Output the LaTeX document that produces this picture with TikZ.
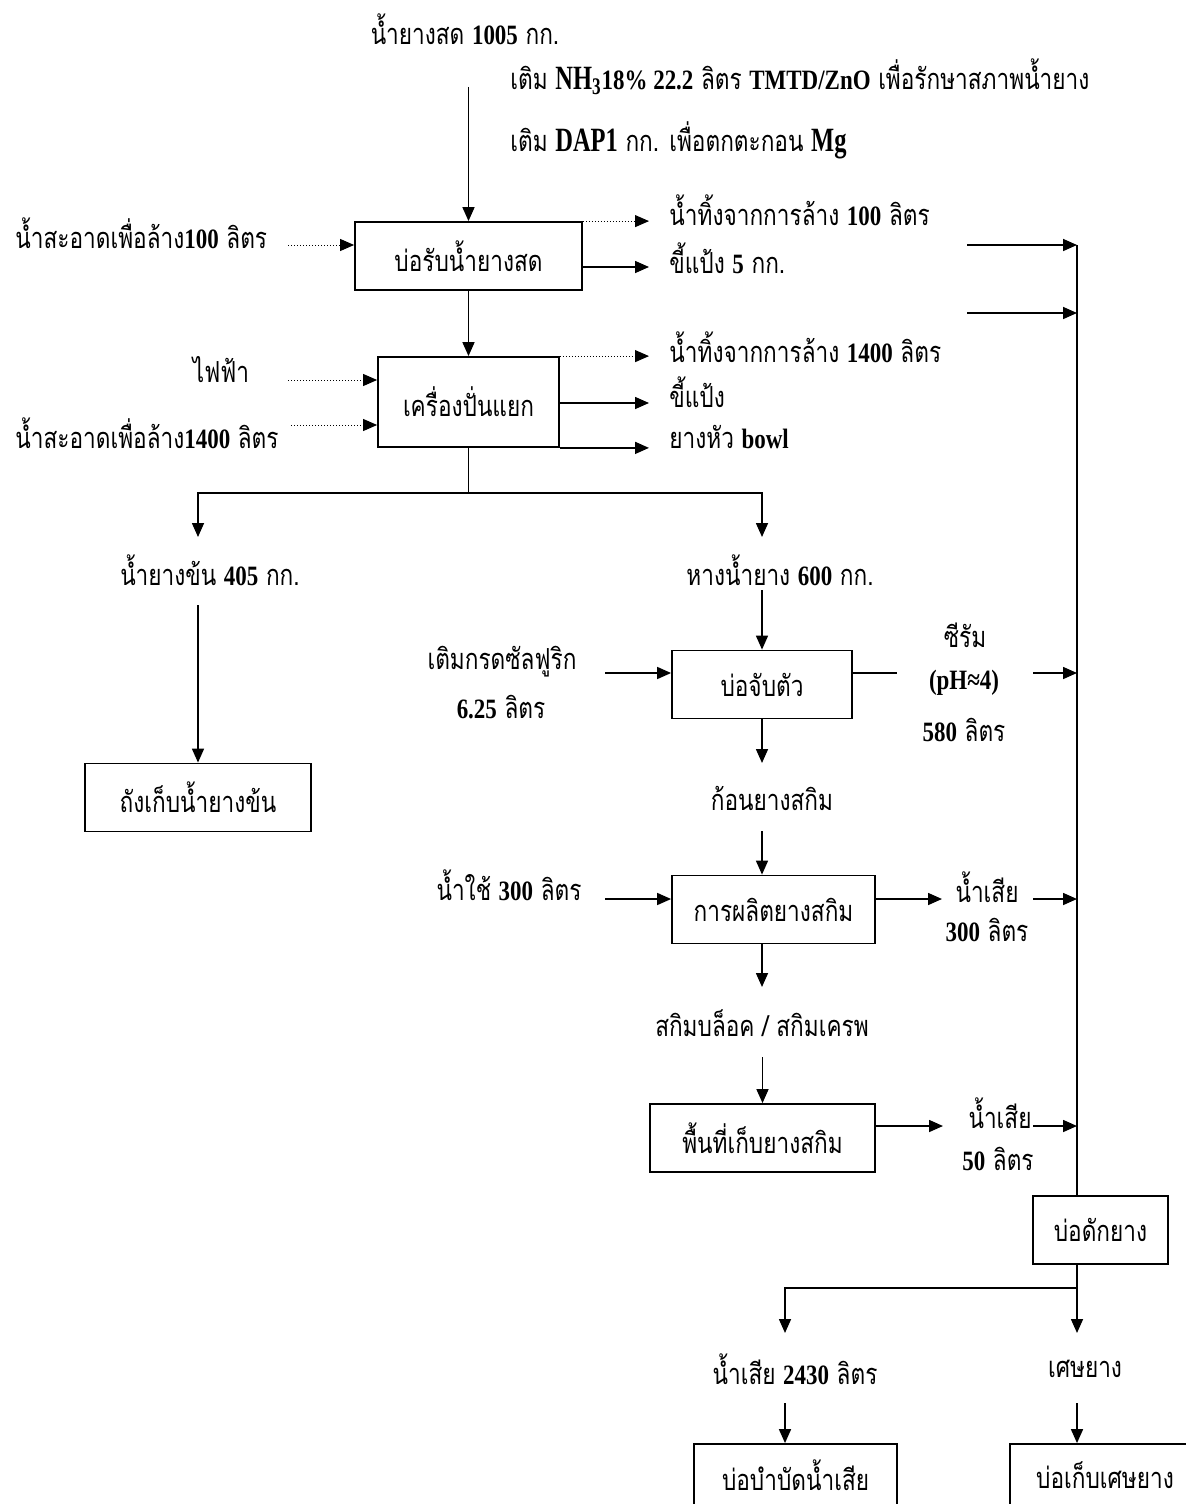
\documentclass[tikz,border=0pt]{standalone}
\usepackage{fontspec}
\setmainfont[Script=Thai, FakeStretch=0.78]{Loma}
\newfontfamily\numfont[FakeStretch=0.82]{Liberation Serif}
\newfontfamily\bignumfont[FakeStretch=0.72]{Liberation Serif}
\usetikzlibrary{arrows.meta,positioning}
\newcommand\nb[1]{{\numfont\bfseries\fontsize{14}{17}\selectfont #1}}
\newcommand\nbig[1]{{\bignumfont\bfseries\fontsize{17}{20}\selectfont #1}}

\begin{document}
\begin{tikzpicture}[x=0.5pt, y=-0.5pt, >={Triangle[length=7pt,width=6pt]},
		font=\fontsize{14.5}{17}\selectfont,
		flow/.style={->, line width=0.8pt},
		bare/.style={line width=0.8pt},
		wash/.style={->, densely dotted, line width=0.5pt},
		unit/.style={draw, line width=0.9pt, inner sep=0pt, minimum width={#1*0.5pt}, minimum height=34pt},
		lbl/.style={inner sep=0pt}]
		\useasboundingbox (0,0) rectangle (1185,1504);
		% columns of arrow tips
		\coordinate (outA) at (649,0);
		\coordinate (drain) at (1077,0);
		% fresh latex and chemicals
		\node[lbl] (fresh) at (465,29) {น้ำยางสด \nb{1005} กก.};
		\node[lbl, anchor=west] (ammo) at (510,77) {เติม \nbig{NH\textsubscript{3}}\nb{18\% 22.2} ลิตร \nb{TMTD/ZnO} เพื่อรักษาสภาพน้ำยาง};
		\node[lbl, anchor=west] (dap) at (510,140) {เติม \nbig{DAP1} กก. เพื่อตกตะกอน \nbig{Mg}};
		\node[unit=227] (rcv) at (468.5,256) {บ่อรับน้ำยางสด};
		\coordinate (feed) at (468.5,87);
		\draw[flow] (feed) -- (rcv.north);
		\node[lbl, anchor=west] (clean1) at (15,233) {น้ำสะอาดเพื่อล้าง\nb{100} ลิตร};
		\coordinate (c1) at (288,245);
		\draw[wash] (c1) -- (c1 -| rcv.west);
		\node[lbl, anchor=west] (rinse1) at (669,210) {น้ำทิ้งจากการล้าง \nb{100} ลิตร};
		\node[lbl, anchor=west] (starch1) at (669,258) {ขี้แป้ง \nb{5} กก.};
		\draw[wash] (rcv.north east) -- (rcv.north east -| outA);
		\coordinate (r1) at (582,267);
		\draw[flow] (r1) -- (r1 -| outA);
		% free feeds into the drain line
		\coordinate (s1) at (967,245);
		\coordinate (s2) at (967,313);
		\draw[flow] (s1) -- (s1 -| drain);
		\draw[flow] (s2) -- (s2 -| drain);
		% centrifuge
		\node[unit=181, minimum height=45pt] (sep) at (468.5,402) {เครื่องปั่นแยก};
		\draw[flow] (rcv.south) -- (sep.north);
		\node[lbl] (power) at (221,370) {ไฟฟ้า};
		\node[lbl, anchor=west] (clean2) at (15,433) {น้ำสะอาดเพื่อล้าง\nb{1400} ลิตร};
		\coordinate (c2) at (288,380);
		\coordinate (c3) at (291,425);
		\draw[wash] (c2) -- (c2 -| sep.west);
		\draw[wash] (c3) -- (c3 -| sep.west);
		\node[lbl, anchor=west] (rinse2) at (669,347) {น้ำทิ้งจากการล้าง \nb{1400} ลิตร};
		\node[lbl, anchor=west] (starch2) at (669,392) {ขี้แป้ง};
		\node[lbl, anchor=west] (bowl) at (669,437) {ยางหัว \nb{bowl}};
		\draw[wash] (sep.north east) -- (sep.north east -| outA);
		\coordinate (r2) at (559,403);
		\draw[flow] (r2) -- (r2 -| outA);
		\draw[flow] (sep.south east) -- (sep.south east -| outA);
		% split into concentrate and skim
		\coordinate (split) at (468.5,493);
		\coordinate (tipL) at (198,537);
		\coordinate (tipR) at (762,537);
		\draw[bare] (sep.south) -- (split);
		\draw[flow] (split) -| (tipL);
		\draw[flow] (split) -| (tipR);
		\node[lbl] (conc) at (210,570) {น้ำยางข้น \nb{405} กก.};
		\node[lbl] (skimlx) at (780,570) {หางน้ำยาง \nb{600} กก.};
		\node[unit=226] (tank) at (198,797.5) {ถังเก็บน้ำยางข้น};
		\coordinate (d1) at (198,605);
		\draw[flow] (d1) -- (tank.north);
		% coagulation
		\node[unit=180] (coag) at (762,684.5) {บ่อจับตัว};
		\coordinate (d2) at (762,590);
		\draw[flow] (d2) -- (coag.north);
		\node[lbl] (acid) at (502,662) {เติมกรดซัลฟูริก};
		\node[lbl] (acidv) at (501,707) {\nb{6.25} ลิตร};
		\coordinate (a1) at (605,673);
		\draw[flow] (a1) -- (a1 -| coag.west);
		\coordinate (m1) at (897,673);
		\draw[bare] (coag.east |- m1) -- (m1);
		\node[lbl] (serum) at (965,635) {ซีรัม};
		\node[lbl] (serumph) at (964,683) {\nb{(pH≈4)}};
		\node[lbl] (serumv) at (964,730) {\nb{580} ลิตร};
		\coordinate (e1) at (1033,673);
		\draw[flow] (e1) -- (e1 -| drain);
		\coordinate (t1) at (762,763);
		\draw[flow] (coag.south) -- (t1);
		\node[lbl] (lump) at (772,798) {ก้อนยางสกิม};
		% skim rubber production
		\node[unit=203] (skim) at (773.5,909.5) {การผลิตยางสกิม};
		\coordinate (d3) at (762,831);
		\draw[flow] (d3) -- (d3 |- skim.north);
		\node[lbl] (water) at (509,885) {น้ำใช้ \nb{300} ลิตร};
		\coordinate (a2) at (605,899);
		\draw[flow] (a2) -- (a2 -| skim.west);
		\coordinate (m2) at (942,899);
		\draw[flow] (skim.east |- m2) -- (m2);
		\node[lbl] (waste1) at (987,887) {น้ำเสีย};
		\node[lbl] (waste1v) at (987,930) {\nb{300} ลิตร};
		\coordinate (e2) at (1033,899);
		\draw[flow] (e2) -- (e2 -| drain);
		\coordinate (t2) at (762,987);
		\draw[flow] (t2 |- skim.south) -- (t2);
		\node[lbl] (block) at (762,1023) {สกิมบล็อค / สกิมเครพ};
		% skim store
		\node[unit=225] (store) at (762.5,1138) {พื้นที่เก็บยางสกิม};
		\coordinate (d4) at (762.5,1057);
		\draw[flow] (d4) -- (store.north);
		\coordinate (m3) at (943,1126);
		\draw[flow] (store.east |- m3) -- (m3);
		\node[lbl] (waste2) at (1000,1113) {น้ำเสีย};
		\node[lbl] (waste2v) at (998,1159) {\nb{50} ลิตร};
		\coordinate (e3) at (1033,1126);
		\draw[flow] (e3) -- (e3 -| drain);
		% rubber trap
		\node[unit=135] (trap) at (1100.5,1230) {บ่อดักยาง};
		\draw[bare] (drain |- s1) -- (drain |- trap.north);
		\coordinate (split2) at (1077,1288);
		\coordinate (tipW) at (785,1333);
		\coordinate (tipS) at (1077,1333);
		\draw[bare] (drain |- trap.south) -- (split2);
		\draw[flow] (split2) -| (tipW);
		\draw[flow] (split2) -- (tipS);
		\node[lbl] (waste3) at (795,1369) {น้ำเสีย \nb{2430} ลิตร};
		\node[lbl] (scraps) at (1085,1369) {เศษยาง};
		\node[unit=203, minimum height=31pt] (treat) at (795.5,1475) {บ่อบำบัดน้ำเสีย};
		\node[unit=190, minimum height=31pt] (scrapbox) at (1105,1475) {บ่อเก็บเศษยาง};
		\coordinate (d5) at (785,1403);
		\coordinate (d6) at (1077,1403);
		\draw[flow] (d5) -- (d5 |- treat.north);
		\draw[flow] (d6) -- (d6 |- scrapbox.north);
	\end{tikzpicture}
\end{document}
